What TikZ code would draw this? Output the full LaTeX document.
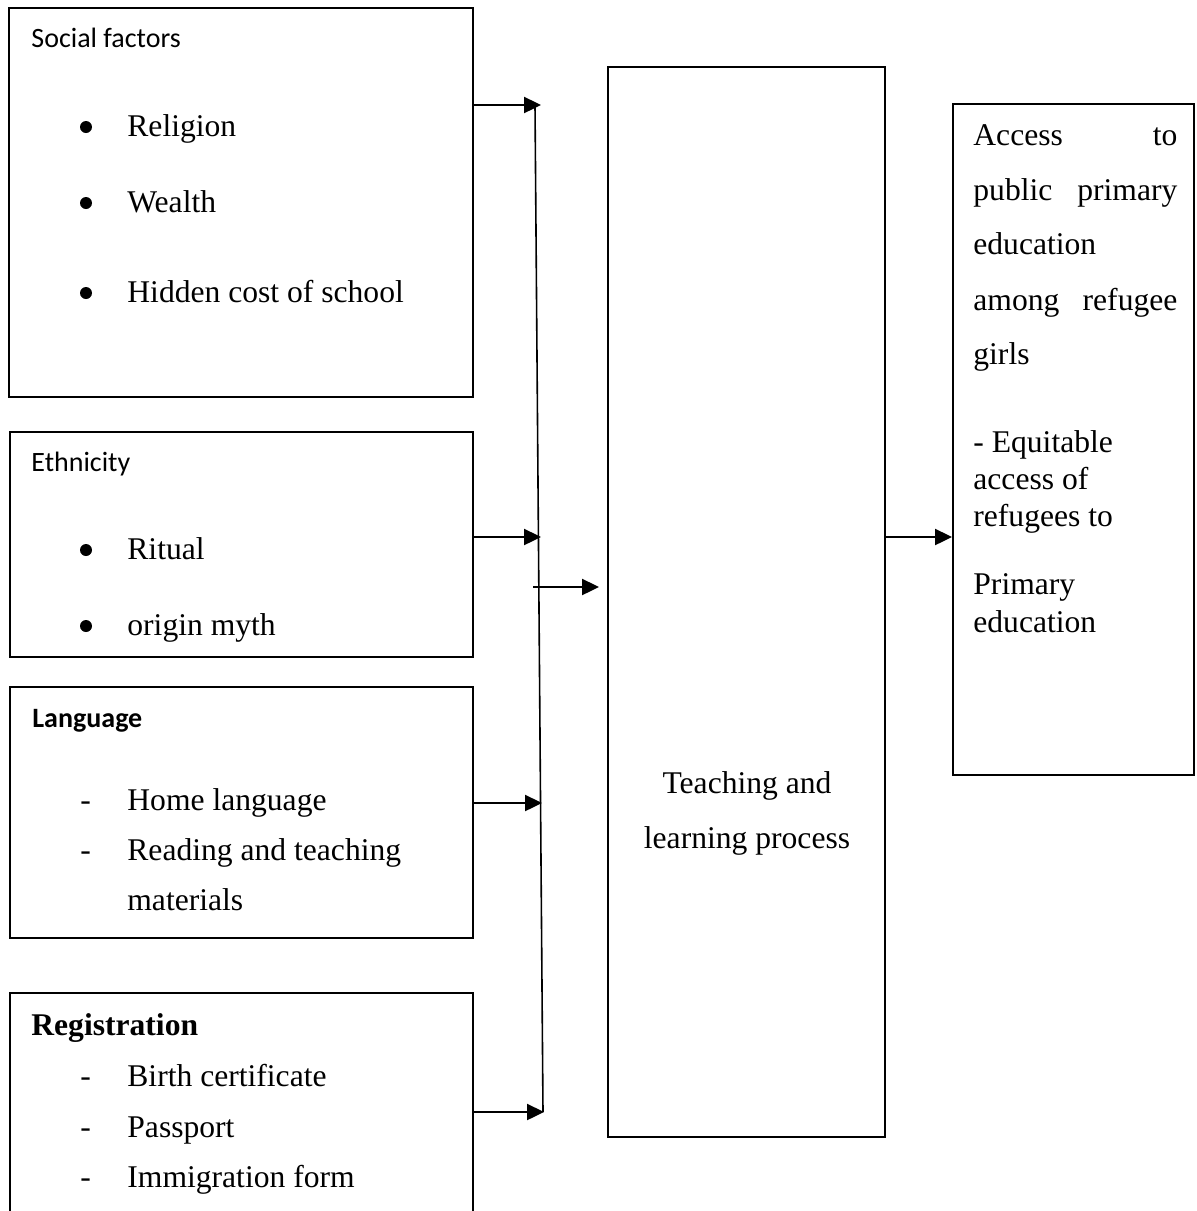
\documentclass[tikz,border=0pt]{standalone}
\usepackage{fontspec}
\setmainfont{Liberation Serif}
\newfontfamily\calibri{Carlito}
\usetikzlibrary{calc,positioning,arrows.meta}

\begin{document}
\begin{tikzpicture}[x=0.5pt,y=-0.5pt]
 \tikzstyle{box}=[rectangle,draw,line width=1pt,inner sep=0]
 \tikzstyle{inv}=[inner sep=0,anchor=base west,font=\fontsize{15.8}{18}\selectfont]
 \tikzstyle{head}=[inner sep=0,anchor=base west,font=\calibri\fontsize{14}{16}\selectfont]
 \tikzstyle{dot}=[circle,fill,inner sep=0,minimum size=6pt]
 \tikzstyle{arr}=[-{Triangle[length=8.5pt,width=8pt]},line width=1.2pt]
 \useasboundingbox (0,0) rectangle (1196,1211);
 % boxes
  \node[box, minimum width=232pt, minimum height=194.5pt] (social) at (241,202.5) {};
  \node[box, minimum width=231.5pt, minimum height=112.5pt] (ethnic) at (241.5,544.5) {};
  \node[box, minimum width=231.5pt, minimum height=125.5pt] (lang) at (241.5,812.5) {};
  \node[box, minimum width=231.5pt, minimum height=123.5pt] (regist) at (241.5,1116.5) {};
  \node[box, minimum width=138.5pt, minimum height=535pt] (teach) at (746.5,602) {};
  \node[box, minimum width=120.5pt, minimum height=335.5pt] (access) at (1073.5,439.5) {};
 % social factors
  \node[head] (socialh) at (31,47) {Social factors};
  \node[dot] (b1) at (86,127) {};
  \node[inv] (relig) at (127,136) {Religion};
  \node[dot] (b2) at (86,203) {};
  \node[inv] (wealth) at (127,212) {Wealth};
  \node[dot] (b3) at (86,293) {};
  \node[inv] (hidden) at (127,302) {Hidden cost of school};
 % ethnicity
  \node[head] (ethnich) at (31,471) {Ethnicity};
  \node[dot] (b4) at (86,550) {};
  \node[inv] (ritual) at (127,559) {Ritual};
  \node[dot] (b5) at (86,626) {};
  \node[inv] (myth) at (127,635) {origin myth};
 % language
  \node[head, font=\calibri\bfseries\fontsize{14}{16}\selectfont] (langh) at (32,727) {Language};
  \node[inv] (d1) at (80,810) {-};
  \node[inv] (home) at (127,810) {Home language};
  \node[inv] (d2) at (80,860) {-};
  \node[inv] (read) at (127,860) {Reading and teaching};
  \node[inv] (mat) at (127,910) {materials};
 % registration
  \node[inv, font=\bfseries\fontsize{15.8}{18}\selectfont] (registh) at (31,1035) {Registration};
  \node[inv] (d3) at (80,1086) {-};
  \node[inv] (birth) at (127,1086) {Birth certificate};
  \node[inv] (d4) at (80,1137) {-};
  \node[inv] (pass) at (127,1137) {Passport};
  \node[inv] (d5) at (80,1187) {-};
  \node[inv] (immig) at (127,1187) {Immigration form};
 % process
  \node[inv, anchor=base] (teach1) at (747,793) {Teaching and};
  \node[inv, anchor=base] (teach2) at (747,848) {learning process};
 % outcome
  \node[inv] (acc1) at (973,145) {\hbox to 102pt{Access\hfill to}};
  \node[inv] (acc2) at (973,200) {\hbox to 102pt{public\hfill primary}};
  \node[inv] (acc3) at (973,254) {education};
  \node[inv] (acc4) at (973,310) {\hbox to 102pt{among\hfill refugee}};
  \node[inv] (acc5) at (973,364) {girls};
  \node[inv] (acc6) at (973,452) {- Equitable};
  \node[inv] (acc7) at (973,489) {access of};
  \node[inv] (acc8) at (973,526) {refugees to};
  \node[inv] (acc9) at (973,594) {Primary};
  \node[inv] (acc10) at (973,632) {education};
 % connectors
  \coordinate (bustop) at (535,105);
  \coordinate (busbot) at (543,1112);
  \coordinate (t1) at (541,105);
  \coordinate (t2) at (541,537);
  \coordinate (t3) at (542,803);
  \coordinate (t4) at (544,1112);
  \coordinate (mid) at (533,587);
\draw[line width=0.8pt] (bustop) -- (busbot) ;
\draw[arr] (social.east |- t1) -- (t1) ;
\draw[arr] (ethnic.east |- t2) -- (t2) ;
\draw[arr] (lang.east |- t3) -- (t3) ;
\draw[arr] (regist.east |- t4) -- (t4) ;
\draw[arr, shorten >=4pt] (mid) -- (teach.west |- mid) ;
\draw[arr] (teach.east |- t2) -- (access.west |- t2) ;
\end{tikzpicture}
\end{document}
